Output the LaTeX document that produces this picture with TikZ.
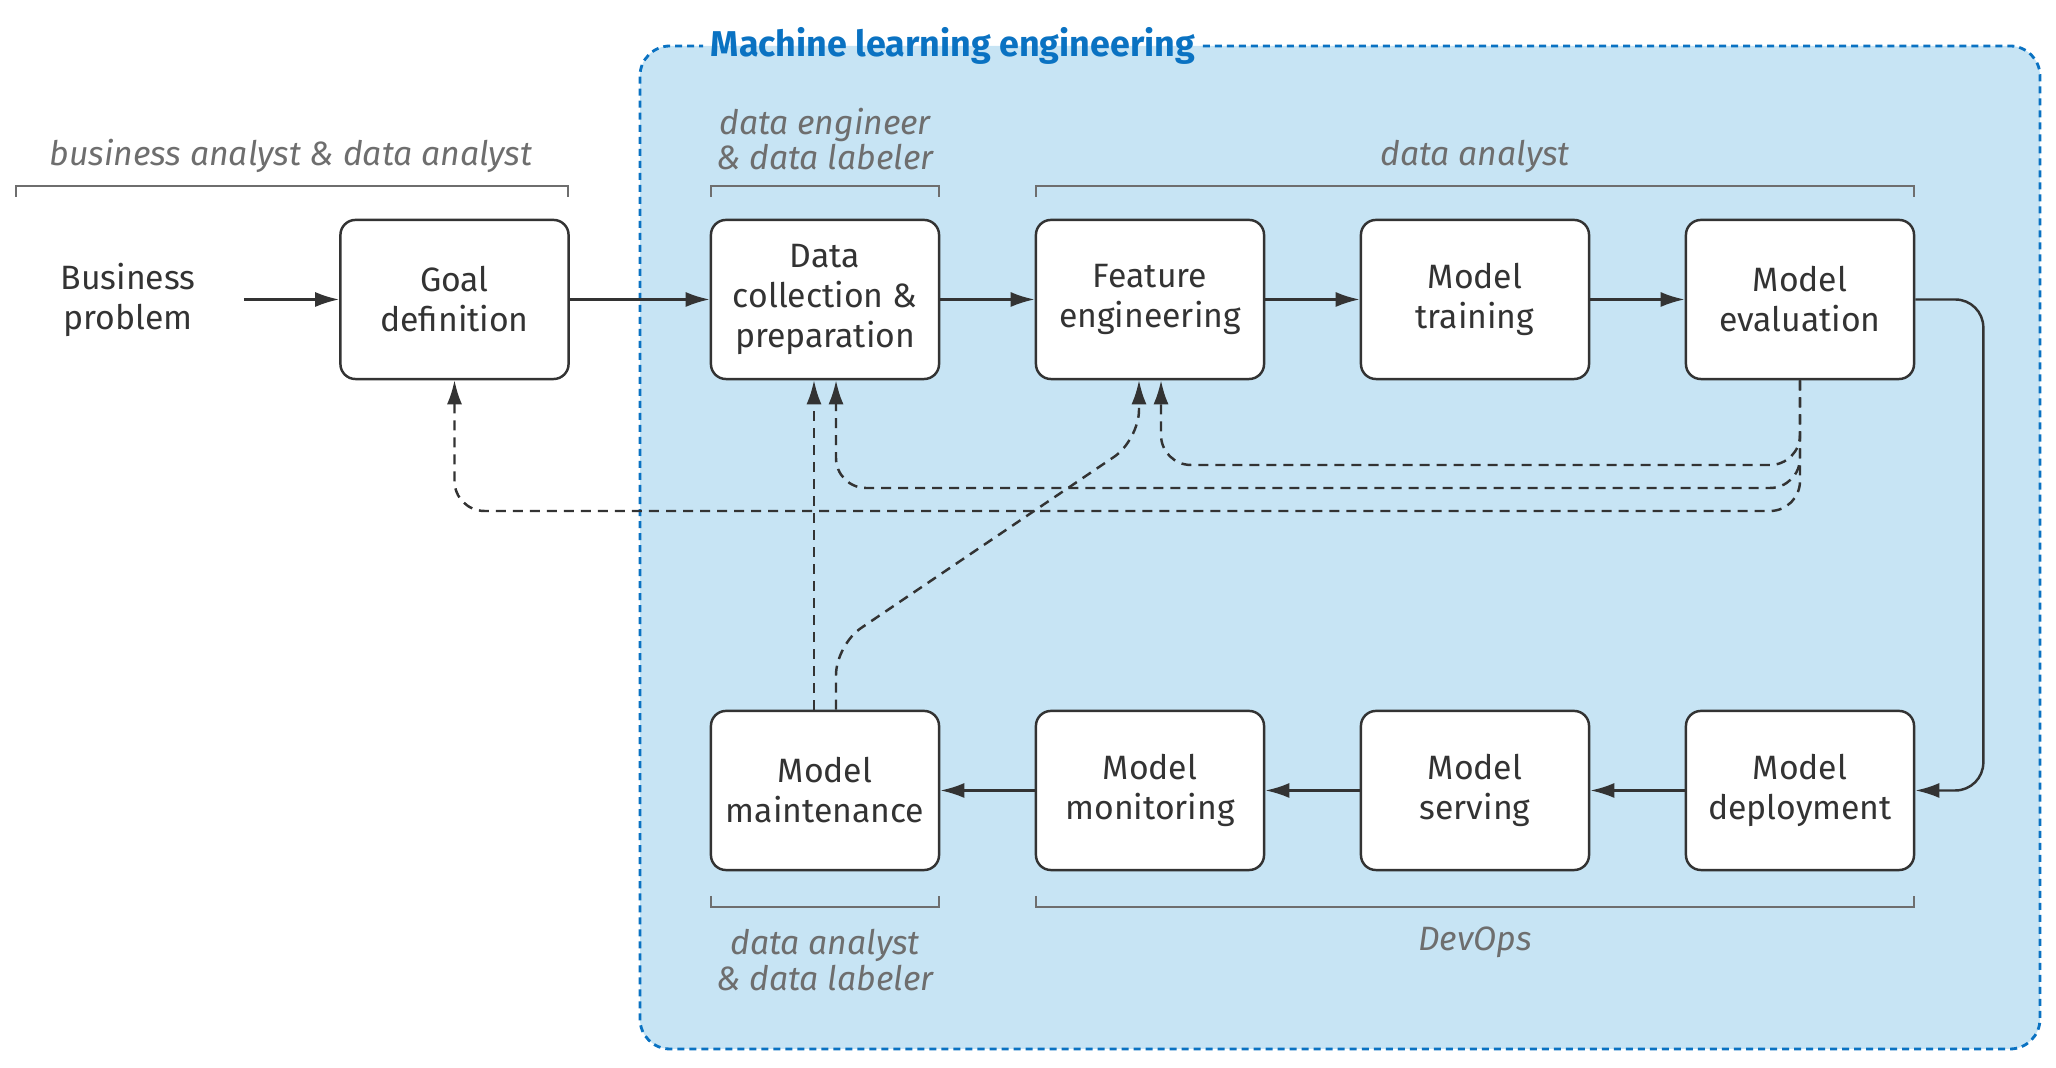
\documentclass[tikz,border=0pt]{standalone}
\usepackage{fontspec}
\setmainfont{Fira Sans}
\usetikzlibrary{arrows.meta}
\definecolor{mlfill}{HTML}{C7E4F4}
\definecolor{mlblue}{HTML}{0A72C2}
\definecolor{ink}{HTML}{333333}
\definecolor{rolegray}{HTML}{6E6E6E}
\tikzset{
  stage/.style={draw=ink,fill=white,line width=0.7pt,rounded corners=0.15cm,minimum width=2.28cm,minimum height=1.59cm,align=center,text=ink,font=\fontsize{9.6}{11.4}\selectfont},
  flow/.style={draw=ink,line width=0.7pt,-{Latex[length=0.24cm,width=0.15cm]}},
  back/.style={flow,dash pattern=on 0.1cm off 0.07cm,rounded corners=0.3cm},
  role/.style={text=rolegray,align=center,font=\fontsize{9.6}{10.2}\selectfont\itshape},
  bracket/.style={draw=rolegray,line width=0.7pt}
}
\begin{document}
\begin{tikzpicture}[x=0.01cm,y=-0.01cm]
\useasboundingbox(0,0)rectangle(2056,1068);
% machine learning engineering area
\fill[mlfill,rounded corners=0.3cm](640,46)rectangle(2040,1049);
\node[text=mlblue,font=\bfseries\fontsize{10.2}{12}\selectfont,inner sep=0.07cm](mle)at(953,46){Machine learning engineering};
\draw[mlblue,line width=0.8pt,dash pattern=on 0.07cm off 0.05cm,rounded corners=0.3cm](mle.east)--(2040,46)--(2040,1049)--(640,1049)--(640,46)--(mle.west);
% stages
\node[text=ink,align=center,font=\fontsize{9.6}{11.4}\selectfont,minimum width=2.3cm](biz)at(128,299.5){Business\\problem};
\foreach \n/\x/\y/\t in {goal/454.5/299.5/{Goal\\definition},data/825/299.5/{Data\\collection \&\\preparation},
  feat/1150/299.5/{Feature\\engineering},train/1475/299.5/{Model\\training},eval/1800/299.5/{Model\\evaluation},
  maint/825/790.5/{Model\\maintenance},monit/1150/790.5/{Model\\monitoring},serv/1475/790.5/{Model\\serving},
  deploy/1800/790.5/{Model\\deployment}}
  \node[stage](\n)at(\x,\y){\t};
% main flow
\draw[flow](biz.east)--(goal.west);
\foreach \a/\b in {goal/data,data/feat,feat/train,train/eval} \draw[flow](\a.east)--(\b.west);
\foreach \a/\b in {deploy/serv,serv/monit,monit/maint} \draw[flow](\a.west)--(\b.east);
\draw[flow,rounded corners=0.28cm](eval.east)-|([xshift=0.68cm]deploy.east)--(deploy.east);
% feedback loops
\draw[back](eval.south)|-(1161,465)--([xshift=0.11cm]feat.south);
\draw[back](eval.south)|-(836,488)--([xshift=0.11cm]data.south);
\draw[back](eval.south)|-(454.5,511)--(goal.south);
\draw[back]([xshift=-0.11cm]maint.north)--([xshift=-0.11cm]data.south);
\draw[back]([xshift=0.11cm]maint.north)--(836,645)--(1139,440)--([xshift=-0.11cm]feat.south);
% roles
\foreach \a/\b/\y/\t in {16/568/186/197,711/939/186/197,1036/1914/186/197,711/939/907/896,1036/1914/907/896}
  \draw[bracket](\a,\t)--(\a,\y)--(\b,\y)--(\b,\t);
\node[role](r1)at(291,156){business analyst \& data analyst};
\node[role](r2)at(825,139){data engineer\\\& data labeler};
\node[role](r3)at(1475,156){data analyst};
\node[role](r4)at(825,960){data analyst\\\& data labeler};
\node[role](r5)at(1475,942){DevOps};
\end{tikzpicture}
\end{document}
